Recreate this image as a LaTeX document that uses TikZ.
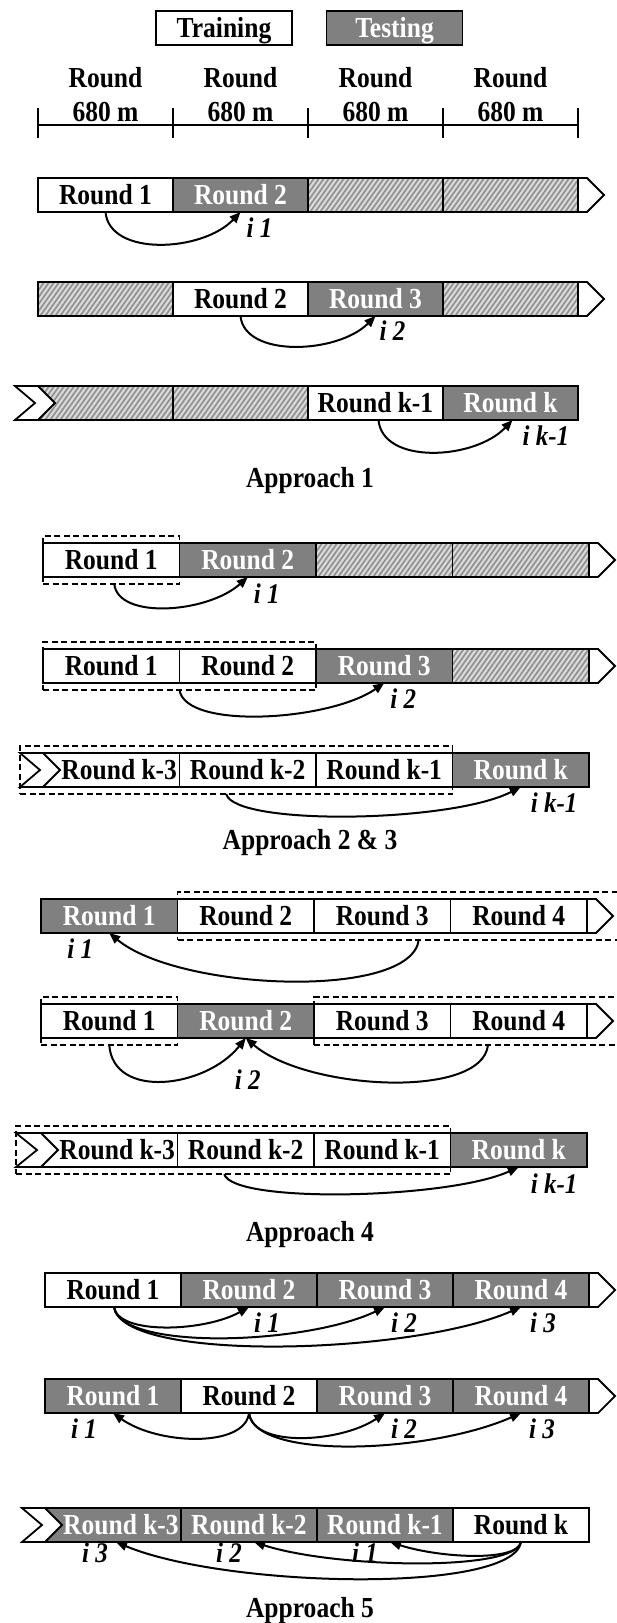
\documentclass[tikz,border=0pt]{standalone}
\usepackage{fontspec}
\setmainfont{Liberation Serif}[FakeStretch=0.88]
\usetikzlibrary{arrows.meta,calc,fit}

\definecolor{testgray}{RGB}{128,128,128}
\definecolor{hatchbg}{RGB}{218,218,218}
\definecolor{hatchln}{RGB}{145,145,145}

\newcommand{\rfont}{\fontsize{29pt}{34pt}\selectfont\bfseries}
\newcommand{\ifont}{\fontsize{28.4pt}{34pt}\selectfont\bfseries\itshape}

\tikzset{
  cell/.style={draw, line width=1.8pt, minimum height=34pt, inner sep=0pt,
    outer sep=0pt, anchor=north west, font=\rfont, text height=19pt, text depth=0pt},
  train/.style={cell, fill=white, text=black},
  test/.style={cell, fill=testgray, text=white},
  hatched/.style={cell, fill=hatchbg, path picture={
      \foreach \hh in {0,...,40}{
        \draw[hatchln, line width=1.7pt]
          ([xshift=\hh*5pt-40pt, yshift=-3pt]path picture bounding box.south west)
          -- ++(32pt,45pt);
      }}},
  celltext/.style={font=\rfont, text height=19pt, text depth=0pt, inner sep=0pt},
  endtip/.style={draw, line width=1.8pt, fill=white, line join=miter},
  chev/.style={draw, line width=1.8pt, fill=white, line join=miter},
  setbox/.style={draw, dash pattern=on 6pt off 3.5pt, line width=1.6pt,
    inner xsep=0pt, inner ysep=7pt, outer sep=0pt},
  flow/.style={line width=2pt, -{Triangle[length=11pt,width=9pt]}},
  idx/.style={font=\ifont, inner sep=0pt},
  title/.style={font=\rfont, inner sep=0pt, anchor=base},
  head/.style={font=\rfont, inner sep=0pt, anchor=base},
  legendbox/.style={draw, line width=1.8pt, minimum width=136pt, minimum height=34pt,
    inner sep=0pt, font=\rfont, text height=19pt, text depth=0pt},
  axis/.style={line width=1.8pt},
}

\begin{document}
\begin{tikzpicture}[x=1pt, y=-1pt]
\clip (0,0) rectangle (617,1623);

% ---------- legend ----------
\node[legendbox, fill=white] (lgtrain) at (224,28) {Training};
\node[legendbox, fill=testgray, text=white] (lgtest) at (394.5,28) {Testing};

% ---------- time axis ----------
\foreach \cx/\nm in {105.5/1,240.5/2,375.5/3,510.5/4}{
  \node[head] (hr\nm) at (\cx,87) {Round};
  \node[head] (hm\nm) at (\cx,121) {680 m};
}
\draw[axis] (38,125) -- (578,125);
\foreach \tx in {38,173,308,443,578}{
  \draw[axis] (\tx,108) -- (\tx,138);
}

% ================= Approach 1 =================
% row 1
\node[train, minimum width=135pt] (a1r1c1) at (38,178) {Round 1};
\node[test, minimum width=135pt] (a1r1c2) at (a1r1c1.north east) {Round 2};
\node[hatched, minimum width=135pt] (a1r1c3) at (a1r1c2.north east) {};
\node[hatched, minimum width=135pt] (a1r1c4) at (a1r1c3.north east) {};
\draw[endtip] (a1r1c4.north east) -- ++(9,0) -- ++(17,17) -- ++(-17,17) -- ++(-9,0) -- cycle;
\draw[flow] (a1r1c1.south) .. controls +(4,45) and +(-38,40) .. (a1r1c2.south);
\node[idx, anchor=base west] (a1r1i) at ($(a1r1c2.south)+(6,25)$) {i 1};

% row 2
\node[hatched, minimum width=135pt] (a1r2c1) at (38,282) {};
\node[train, minimum width=135pt] (a1r2c2) at (a1r2c1.north east) {Round 2};
\node[test, minimum width=135pt] (a1r2c3) at (a1r2c2.north east) {Round 3};
\node[hatched, minimum width=135pt] (a1r2c4) at (a1r2c3.north east) {};
\draw[endtip] (a1r2c4.north east) -- ++(9,0) -- ++(17,17) -- ++(-17,17) -- ++(-9,0) -- cycle;
\draw[flow] (a1r2c2.south) .. controls +(4,42) and +(-38,38) .. (a1r2c3.south);
\node[idx, anchor=base west] (a1r2i) at ($(a1r2c3.south)+(4,24)$) {i 2};

% row 3
\node[hatched, minimum width=135pt] (a1r3c1) at (38,386) {};
\node[hatched, minimum width=135pt] (a1r3c2) at (a1r3c1.north east) {};
\node[train, minimum width=135pt] (a1r3c3) at (a1r3c2.north east) {Round k-1};
\node[test, minimum width=135pt] (a1r3c4) at (a1r3c3.north east) {Round k};
\coordinate (a1r3cl) at ($(a1r3c1.north west)+(-23,0)$);
\draw[chev] (a1r3cl) -- (a1r3c1.north west) -- ($(a1r3c1.west)+(17,0)$) -- (a1r3c1.south west)
  -- ($(a1r3c1.south west)+(-23,0)$) -- ($(a1r3c1.west)+(-3,0)$) -- cycle;
\draw[flow] ([xshift=3pt]a1r3c3.south) .. controls +(4,45) and +(-38,40) .. ([xshift=2pt]a1r3c4.south);
\node[idx, anchor=base west] (a1r3i) at ($(a1r3c4.south)+(12,25)$) {i k-1};

\node[title] (ap1) at (310,487) {Approach 1};

% ================= Approach 2 & 3 =================
% row 1
\node[train, minimum width=136.5pt] (a2r1c1) at (43,543) {Round 1};
\node[test, minimum width=136.5pt] (a2r1c2) at (a2r1c1.north east) {Round 2};
\node[hatched, minimum width=136.5pt] (a2r1c3) at (a2r1c2.north east) {};
\node[hatched, minimum width=136.5pt] (a2r1c4) at (a2r1c3.north east) {};
\draw[endtip] (a2r1c4.north east) -- ++(9,0) -- ++(17,17) -- ++(-17,17) -- ++(-9,0) -- cycle;
\node[setbox, fit=(a2r1c1)] (a2r1tr) {};
\draw[flow] ([xshift=3pt]a2r1tr.south) .. controls +(4,36) and +(-40,36) .. (a2r1c2.south);
\node[idx, anchor=base west] (a2r1i) at ($(a2r1c2.south)+(6,26)$) {i 1};

% row 2
\node[train, minimum width=136.5pt] (a2r2c1) at (43,649) {Round 1};
\node[train, minimum width=136.5pt] (a2r2c2) at (a2r2c1.north east) {Round 2};
\node[test, minimum width=136.5pt] (a2r2c3) at (a2r2c2.north east) {Round 3};
\node[hatched, minimum width=136.5pt] (a2r2c4) at (a2r2c3.north east) {};
\draw[endtip] (a2r2c4.north east) -- ++(9,0) -- ++(17,17) -- ++(-17,17) -- ++(-9,0) -- cycle;
\node[setbox, fit=(a2r2c1)(a2r2c2)] (a2r2tr) {};
\draw[flow] (a2r2tr.south) .. controls +(6,40) and +(-55,38) .. (a2r2c3.south);
\node[idx, anchor=base west] (a2r2i) at ($(a2r2c3.south)+(6,25)$) {i 2};

% row 3
\node[train, minimum width=136.5pt] (a2r3c1) at (43,753) {};
\node[train, minimum width=136.5pt] (a2r3c2) at (a2r3c1.north east) {Round k-2};
\node[train, minimum width=136.5pt] (a2r3c3) at (a2r3c2.north east) {Round k-1};
\node[test, minimum width=136.5pt] (a2r3c4) at (a2r3c3.north east) {Round k};
\coordinate (a2r3cl) at ($(a2r3c1.north west)+(-23,0)$);
\draw[chev] (a2r3cl) -- (a2r3c1.north west) -- ($(a2r3c1.west)+(17,0)$) -- (a2r3c1.south west)
  -- ($(a2r3c1.south west)+(-23,0)$) -- ($(a2r3c1.west)+(-3,0)$) -- cycle;
\node[celltext] (a2r3t1) at ($(a2r3c1.center)+(8,0)$) {Round k-3};
\node[setbox, fit=(a2r3cl)(a2r3c3)] (a2r3tr) {};
\draw[flow] ([xshift=-10pt]a2r3tr.south) .. controls +(8,32) and +(-70,36) .. (a2r3c4.south);
\node[idx, anchor=base west] (a2r3i) at ($(a2r3c4.south)+(10,25)$) {i k-1};

\node[title] (ap23) at (310,849) {Approach 2 \& 3};

% ================= Approach 4 =================
% row 1
\node[test, minimum width=136.5pt] (a4r1c1) at (41,899) {Round 1};
\node[train, minimum width=136.5pt] (a4r1c2) at (a4r1c1.north east) {Round 2};
\node[train, minimum width=136.5pt] (a4r1c3) at (a4r1c2.north east) {Round 3};
\node[train, minimum width=136.5pt] (a4r1c4) at (a4r1c3.north east) {Round 4};
\draw[endtip] (a4r1c4.north east) -- ++(9,0) -- ++(17,17) -- ++(-17,17) -- ++(-9,0) -- cycle;
\coordinate (a4r1edge) at (630,916);
\node[setbox, fit=(a4r1c2)(a4r1edge)] (a4r1tr) {};
\draw[flow] ([xshift=15pt]a4r1tr.south) .. controls +(-8,60) and +(70,58) .. (a4r1c1.south);
\node[idx, anchor=base east] (a4r1i) at ($(a4r1c1.south)+(-16,25)$) {i 1};

% row 2
\node[train, minimum width=136.5pt] (a4r2c1) at (41,1004) {Round 1};
\node[test, minimum width=136.5pt] (a4r2c2) at (a4r2c1.north east) {Round 2};
\node[train, minimum width=136.5pt] (a4r2c3) at (a4r2c2.north east) {Round 3};
\node[train, minimum width=136.5pt] (a4r2c4) at (a4r2c3.north east) {Round 4};
\draw[endtip] (a4r2c4.north east) -- ++(9,0) -- ++(17,17) -- ++(-17,17) -- ++(-9,0) -- cycle;
\coordinate (a4r2edge) at (630,1021);
\node[setbox, fit=(a4r2c1)] (a4r2lb) {};
\node[setbox, fit=(a4r2c3)(a4r2edge)] (a4r2rb) {};
\draw[flow] (a4r2lb.south) .. controls +(4,55) and +(-40,50) .. (a4r2c2.south);
\draw[flow] ([xshift=16pt]a4r2rb.south) .. controls +(-6,55) and +(60,52) .. (a4r2c2.south);
\node[idx, anchor=base] (a4r2i) at ($(a4r2c2.south)+(2,51)$) {i 2};

% row 3
\node[train, minimum width=136.5pt] (a4r3c1) at (41,1133) {};
\node[train, minimum width=136.5pt] (a4r3c2) at (a4r3c1.north east) {Round k-2};
\node[train, minimum width=136.5pt] (a4r3c3) at (a4r3c2.north east) {Round k-1};
\node[test, minimum width=136.5pt] (a4r3c4) at (a4r3c3.north east) {Round k};
\coordinate (a4r3cl) at ($(a4r3c1.north west)+(-25,0)$);
\draw[chev] (a4r3cl) -- (a4r3c1.north west) -- ($(a4r3c1.west)+(17,0)$) -- (a4r3c1.south west)
  -- ($(a4r3c1.south west)+(-25,0)$) -- ($(a4r3c1.west)+(-4,0)$) -- cycle;
\node[celltext] (a4r3t1) at ($(a4r3c1.center)+(8,0)$) {Round k-3};
\node[setbox, fit=(a4r3cl)(a4r3c3)] (a4r3tr) {};
\draw[flow] ([xshift=-9pt]a4r3tr.south) .. controls +(8,30) and +(-70,32) .. (a4r3c4.south);
\node[idx, anchor=base west] (a4r3i) at ($(a4r3c4.south)+(12,26)$) {i k-1};

\node[title] (ap4) at (310,1241) {Approach 4};

% ================= Approach 5 =================
% row 1
\node[train, minimum width=136pt] (a5r1c1) at (45,1273) {Round 1};
\node[test, minimum width=136pt] (a5r1c2) at (a5r1c1.north east) {Round 2};
\node[test, minimum width=136pt] (a5r1c3) at (a5r1c2.north east) {Round 3};
\node[test, minimum width=136pt] (a5r1c4) at (a5r1c3.north east) {Round 4};
\draw[endtip] (a5r1c4.north east) -- ++(9,0) -- ++(17,17) -- ++(-17,17) -- ++(-9,0) -- cycle;
\draw[flow] ([xshift=1pt]a5r1c1.south) .. controls +(4,28) and +(-45,25) .. (a5r1c2.south);
\draw[flow] ([xshift=1pt]a5r1c1.south) .. controls +(6,44) and +(-80,38) .. (a5r1c3.south);
\draw[flow] ([xshift=1pt]a5r1c1.south) .. controls +(8,56) and +(-110,48) .. (a5r1c4.south);
\node[idx, anchor=base west] (a5r1i1) at ($(a5r1c2.south)+(5,25)$) {i 1};
\node[idx, anchor=base west] (a5r1i2) at ($(a5r1c3.south)+(6,25)$) {i 2};
\node[idx, anchor=base west] (a5r1i3) at ($(a5r1c4.south)+(9,25)$) {i 3};

% row 2
\node[test, minimum width=136pt] (a5r2c1) at (45,1379) {Round 1};
\node[train, minimum width=136pt] (a5r2c2) at (a5r2c1.north east) {Round 2};
\node[test, minimum width=136pt] (a5r2c3) at (a5r2c2.north east) {Round 3};
\node[test, minimum width=136pt] (a5r2c4) at (a5r2c3.north east) {Round 4};
\draw[endtip] (a5r2c4.north east) -- ++(9,0) -- ++(17,17) -- ++(-17,17) -- ++(-9,0) -- cycle;
\draw[flow] (a5r2c2.south) .. controls +(-4,35) and +(45,32) .. (a5r2c1.south);
\draw[flow] (a5r2c2.south) .. controls +(4,35) and +(-45,30) .. (a5r2c3.south);
\draw[flow] (a5r2c2.south) .. controls +(6,48) and +(-90,40) .. (a5r2c4.south);
\node[idx, anchor=base east] (a5r2i1) at ($(a5r2c1.south)+(-16,25)$) {i 1};
\node[idx, anchor=base west] (a5r2i2) at ($(a5r2c3.south)+(6,25)$) {i 2};
\node[idx, anchor=base west] (a5r2i3) at ($(a5r2c4.south)+(8,25)$) {i 3};

% row 3
\node[test, minimum width=136pt] (a5r3c1) at (45,1508) {};
\node[test, minimum width=136pt] (a5r3c2) at (a5r3c1.north east) {Round k-2};
\node[test, minimum width=136pt] (a5r3c3) at (a5r3c2.north east) {Round k-1};
\node[train, minimum width=136pt] (a5r3c4) at (a5r3c3.north east) {Round k};
\coordinate (a5r3cl) at ($(a5r3c1.north west)+(-23,0)$);
\draw[chev] (a5r3cl) -- (a5r3c1.north west) -- ($(a5r3c1.west)+(17,0)$) -- (a5r3c1.south west)
  -- ($(a5r3c1.south west)+(-23,0)$) -- ($(a5r3c1.west)+(-3,0)$) -- cycle;
\node[celltext, text=white] (a5r3t1) at ($(a5r3c1.center)+(8,0)$) {Round k-3};
\draw[flow] (a5r3c4.south) .. controls +(-4,20) and +(50,16) .. ([xshift=5pt]a5r3c3.south);
\draw[flow] (a5r3c4.south) .. controls +(-6,30) and +(80,26) .. ([xshift=5pt]a5r3c2.south);
\draw[flow] (a5r3c4.south) .. controls +(-8,52) and +(110,46) .. ([xshift=3pt]a5r3c1.south);
\node[idx, anchor=base east] (a5r3i1) at ($(a5r3c3.south)+(-7,20)$) {i 1};
\node[idx, anchor=base east] (a5r3i2) at ($(a5r3c2.south)+(-7,20)$) {i 2};
\node[idx, anchor=base east] (a5r3i3) at ($(a5r3c1.south)+(-5,20)$) {i 3};

\node[title] (ap5) at (310,1617) {Approach 5};
\end{tikzpicture}
\end{document}
